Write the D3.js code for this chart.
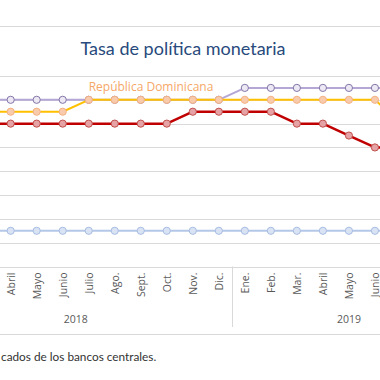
<!DOCTYPE html>
<html>
<head>
<meta charset="utf-8">
<script src="https://cdn.jsdelivr.net/npm/d3@7"></script>
<style>
  html, body { margin: 0; padding: 0; background: #fff; }
  svg { display: block; }
</style>
</head>
<body>
<svg id="chart" width="380" height="380"></svg>
<script>
// ---- Data ----
const months = ["Ene.", "Feb.", "Mar.", "Abril", "Mayo", "Junio", "Julio", "Ago.", "Sept.", "Oct.", "Nov.", "Dic.",
                "Ene.", "Feb.", "Mar.", "Abril", "Mayo", "Junio", "Julio", "Ago.", "Sept."];
const years = ["2018", "2019"];
const yearCounts = [12, 9];
const seriesNames = ["Honduras", "República Dominicana", "Costa Rica", "Guatemala"];
const honduras   = [5.50, 5.50, 5.50, 5.50, 5.50, 5.50, 5.50, 5.50, 5.50, 5.50, 5.50, 5.50, 5.75, 5.75, 5.75, 5.75, 5.75, 5.75, 5.75, 5.75, 5.75];
const repDom     = [5.25, 5.25, 5.25, 5.25, 5.25, 5.25, 5.50, 5.50, 5.50, 5.50, 5.50, 5.50, 5.50, 5.50, 5.50, 5.50, 5.50, 5.50, 5.00, 4.50, 4.50];
const costaRica  = [5.00, 5.00, 5.00, 5.00, 5.00, 5.00, 5.00, 5.00, 5.00, 5.00, 5.25, 5.25, 5.25, 5.25, 5.00, 5.00, 4.75, 4.50, 4.50, 4.50, 4.50];
const guatemala  = [2.75, 2.75, 2.75, 2.75, 2.75, 2.75, 2.75, 2.75, 2.75, 2.75, 2.75, 2.75, 2.75, 2.75, 2.75, 2.75, 2.75, 2.75, 2.75, 2.75, 2.75];
const yTicks = [2.0, 2.5, 3.0, 3.5, 4.0, 4.5, 5.0, 5.5, 6.0];
const titleText = "Tasa de política monetaria";
const sourceText = "cados de los bancos centrales.";

// ---- Layout ----
const W = 380;
const svg = d3.select("#chart");
const idx = months.map((m, i) => i);
const x = d3.scaleBand().domain(idx).range([-80.4, 466]).padding(0);
const cx = i => x(i) + x.bandwidth() / 2;
const y = d3.scaleLinear().domain([2, 6]).range([266.5, 76]);
const inView = i => cx(i) > 0 && cx(i) < W + 4;

const grid = "#d9d9d9";

// frame top line
svg.append("line").attr("x1", 0).attr("x2", W).attr("y1", 26.5).attr("y2", 26.5)
  .attr("stroke", grid).attr("stroke-width", 1);

// title
svg.append("text").attr("x", 183).attr("y", 55)
  .attr("text-anchor", "middle")
  .attr("font-family", "Lato, 'Noto Sans', sans-serif")
  .attr("font-size", 18).attr("fill", "#284a7c")
  .text(titleText);

// gridlines
svg.append("g").selectAll("line").data(yTicks).join("line")
  .attr("x1", 0).attr("x2", W)
  .attr("y1", d => Math.round(y(d)) + 0.5).attr("y2", d => Math.round(y(d)) + 0.5)
  .attr("stroke", grid).attr("stroke-width", 1);

// x-axis month labels (only the months inside the visible window)
const axisG = svg.append("g").attr("transform", "translate(0,266.5)");
const xAxis = d3.axisBottom(x).tickSize(0).tickValues(idx.filter(inView)).tickFormat(i => months[i]);
axisG.call(xAxis);
axisG.select(".domain").remove();
axisG.selectAll("text")
  .attr("x", null).attr("y", null).attr("dy", null)
  .attr("text-anchor", "end")
  .attr("dominant-baseline", "central")
  .attr("transform", "translate(0,6) rotate(-90)")
  .attr("font-family", "'Open Sans', 'Liberation Sans', sans-serif")
  .attr("font-size", 10.5).attr("fill", "#595959");

// year dividers & labels
let start = 0;
const bounds = [0];
yearCounts.forEach(c => { start += c; bounds.push(start); });
const bx = b => Math.round(b < months.length ? x(b) : x(months.length - 1) + x.bandwidth()) + 0.5;
svg.append("g").selectAll("line").data(bounds).join("line")
  .attr("x1", bx).attr("x2", bx)
  .attr("y1", 266.5).attr("y2", 327)
  .attr("stroke", grid).attr("stroke-width", 1);
svg.append("g").selectAll("text").data(years).join("text")
  .attr("x", (d, k) => (cx(bounds[k]) + cx(bounds[k + 1] - 1)) / 2)
  .attr("y", 323)
  .attr("text-anchor", "middle")
  .attr("font-family", "'Open Sans', 'Liberation Sans', sans-serif")
  .attr("font-size", 10.5).attr("fill", "#595959")
  .text(d => d);

// bottom frame line
svg.append("line").attr("x1", 0).attr("x2", W).attr("y1", 334.5).attr("y2", 334.5)
  .attr("stroke", grid).attr("stroke-width", 1);

// source
svg.append("text").attr("x", 1).attr("y", 361)
  .attr("text-anchor", "start")
  .attr("font-family", "Lato, 'Noto Sans', sans-serif")
  .attr("font-size", 11.8).attr("fill", "#333333")
  .text(sourceText);

// series
const series = [
  { name: seriesNames[3], values: guatemala, line: "#b4c7e7", lw: 2, fill: "#dae3f3", stroke: "#a6bde3" },
  { name: seriesNames[2], values: costaRica, line: "#c00000", lw: 2.5, fill: "#e6a3a6", stroke: "#c0504d" },
  { name: seriesNames[0], values: honduras, line: "#b4a7d6", lw: 2, fill: "#ece8f4", stroke: "#8576a8" },
  { name: seriesNames[1], values: repDom, line: "#ffc000", lw: 2, fill: "#f8cbad", stroke: "#f4b183" }
];
const lineGen = d3.line().x((d, i) => cx(i)).y(d => y(d));
series.forEach(s => {
  const g = svg.append("g");
  g.append("path").datum(s.values)
    .attr("d", lineGen).attr("fill", "none")
    .attr("stroke", s.line).attr("stroke-width", s.lw)
    .attr("stroke-linejoin", "round");
  g.selectAll("circle").data(s.values).join("circle")
    .attr("cx", (d, i) => cx(i)).attr("cy", d => y(d))
    .attr("r", 3.6)
    .attr("fill", s.fill).attr("stroke", s.stroke).attr("stroke-width", 1);
});

// series label
svg.append("text").attr("x", 151).attr("y", 90.5)
  .attr("text-anchor", "middle")
  .attr("font-family", "'Open Sans', 'Noto Sans', sans-serif")
  .attr("font-size", 12).attr("fill", "#f5a868")
  .text(seriesNames[1]);
</script>
</body>
</html>
